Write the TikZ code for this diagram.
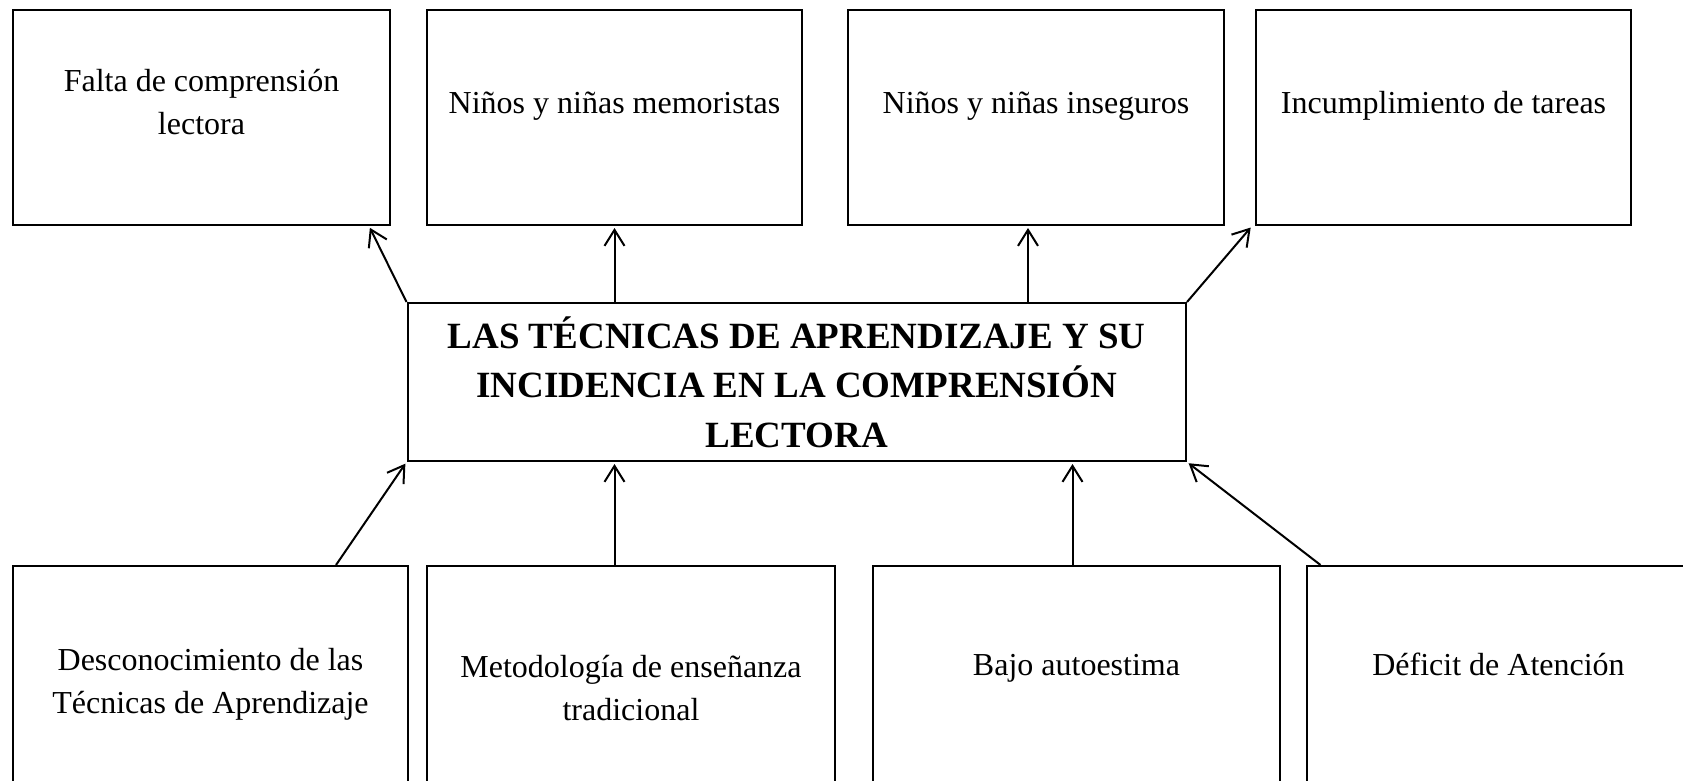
\documentclass[tikz,border=0pt]{standalone}
\usepackage{fontspec}
\setmainfont{Liberation Serif}
\usetikzlibrary{arrows.meta}
\begin{document}
\begin{tikzpicture}[x=1pt,y=-1pt,
  box/.style={draw, line width=2pt, rectangle, inner sep=0pt},
  topbox/.style={box, minimum width=#1, minimum height=215.5pt},
  botbox/.style={box, minimum width=#1, minimum height=234pt},
  txt/.style={align=center, inner sep=0pt, anchor=base, font=\fontsize{32}{43.5}\selectfont},
  btxt/.style={align=center, inner sep=0pt, anchor=base, font=\fontsize{37}{49.3}\selectfont\bfseries},
  arr/.style={line width=2pt, shorten >=2pt, -{Straight Barb[length=16pt,width=20pt]}}]
\useasboundingbox (0,0) rectangle (1683,780);
\clip (0,0) rectangle (1683,780);
% top boxes
\node[topbox=377pt] (f1) at (201.5,117.25) {};
\node[topbox=375pt] (f2) at (614.5,117.25) {};
\node[topbox=376pt] (f3) at (1036,117.25) {};
\node[topbox=375pt] (f4) at (1443.5,117.25) {};
\node[txt] (tf1) at (201.5,134.5) {Falta de comprensión\\lectora};
\node[txt] (tf2) at (614.5,113) {Niños y niñas memoristas};
\node[txt] (tf3) at (1036,113) {Niños y niñas inseguros};
\node[txt] (tf4) at (1443.5,113) {Incumplimiento de tareas};
% center
\node[box, minimum width=778.5pt, minimum height=158pt] (c) at (796.75,382) {};
\node[btxt] (tc) at (796.75,447) {LAS TÉCNICAS DE APRENDIZAJE Y SU\\INCIDENCIA EN LA COMPRENSIÓN\\LECTORA};
% bottom boxes
\node[botbox=395pt] (b1) at (210.5,683) {};
\node[botbox=408pt] (b2) at (631,683) {};
\node[botbox=407pt] (b3) at (1076.5,683) {};
\node[botbox=384pt] (b4) at (1498.5,683) {};
\node[txt] (tb1) at (210.5,713.5) {Desconocimiento de las\\Técnicas de Aprendizaje};
\node[txt] (tb2) at (631,720.5) {Metodología de enseñanza\\tradicional};
\node[txt] (tb3) at (1076.5,675) {Bajo autoestima};
\node[txt] (tb4) at (1498.5,675) {Déficit de Atención};
% arrows up from center
\coordinate (a1) at ([xshift=-22pt]f1.south east);
\coordinate (a3) at ([xshift=-8pt]f3.south);
\coordinate (a4) at ([xshift=-3pt]f4.south west);
\draw[arr] (c.north west) -- (a1);
\draw[arr] (c.north -| f2.south) -- (f2.south);
\draw[arr] (c.north -| a3) -- (a3);
\draw[arr] (c.north east) -- (a4);
% arrows from bottom boxes
\coordinate (s5) at ([xshift=-73pt]b1.north east);
\coordinate (s7) at ([xshift=-4pt]b3.north);
\coordinate (s8) at ([xshift=15pt]b4.north west);
\draw[arr] (s5) -- (c.south west);
\draw[arr] (b2.north -| f2.south) -- (c.south -| f2.south);
\draw[arr] (s7) -- (c.south -| s7);
\draw[arr] (s8) -- (c.south east);
\end{tikzpicture}
\end{document}
